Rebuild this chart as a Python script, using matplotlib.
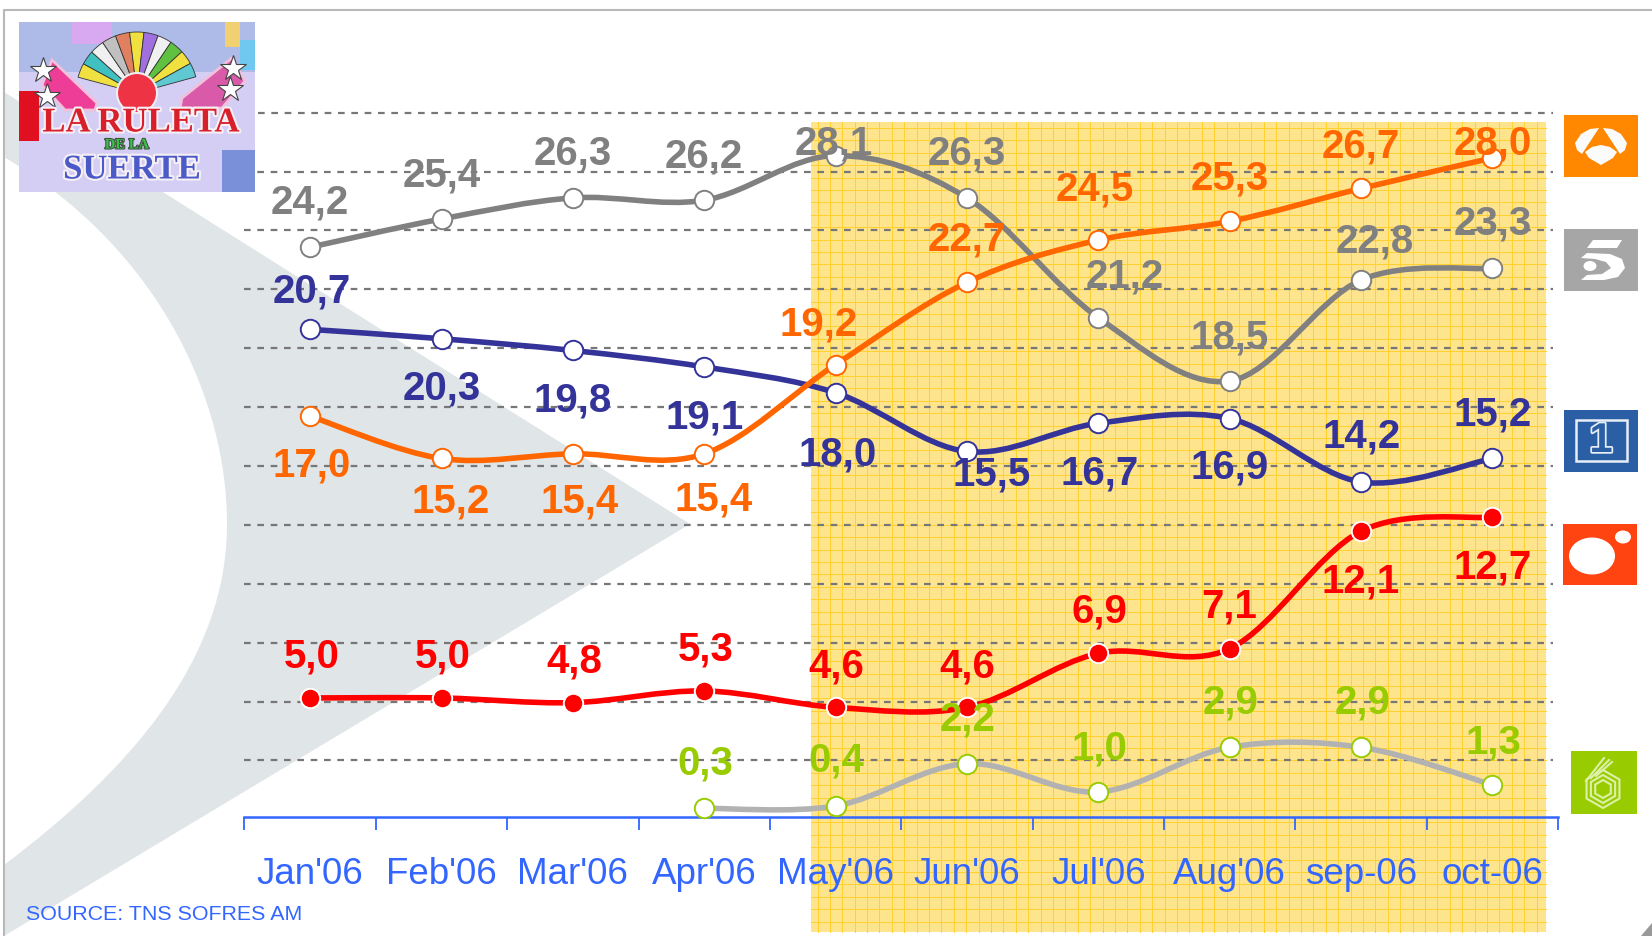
import matplotlib
matplotlib.use('Agg')
import matplotlib.pyplot as plt
import matplotlib.patheffects as pe
import numpy as np
from matplotlib.path import Path
from matplotlib.patches import PathPatch, Rectangle, Ellipse, Wedge, Circle, Polygon

plt.rcParams['font.family'] = ['Liberation Sans', 'DejaVu Sans']

# Data
months = ["Jan'06", "Feb'06", "Mar'06", "Apr'06", "May'06", "Jun'06", "Jul'06", "Aug'06", "sep-06", "oct-06"]
telecinco = [24.2, 25.4, 26.3, 26.2, 28.1, 26.3, 21.2, 18.5, 22.8, 23.3]
tve1 = [20.7, 20.3, 19.8, 19.1, 18.0, 15.5, 16.7, 16.9, 14.2, 15.2]
antena3 = [17.0, 15.2, 15.4, 15.4, 19.2, 22.7, 24.5, 25.3, 26.7, 28.0]
cuatro = [5.0, 5.0, 4.8, 5.3, 4.6, 4.6, 6.9, 7.1, 12.1, 12.7]
lasexta = [None, None, None, 0.3, 0.4, 2.2, 1.0, 2.9, 2.9, 1.3]
source = "SOURCE: TNS SOFRES AM"

# Label offsets from each point, in pixels (x, up)
telecinco_off = [(0, 45), (0, 44), (0, 44), (0, 44), (-2, 12), (0, 44), (26, 41), (0, 44), (14, 39), (0, 45)]
tve1_off = [(2, 38), (0, -50), (0, -50), (0, -51), (2, -62), (25, -23), (1, -50), (0, -49), (1, 45), (0, 44)]
antena3_off = [(1, -49), (9, -43), (7, -48), (9, -46), (-17, 40), (0, 43), (-4, 51), (0, 43), (0, 42), (0, 14)]
cuatro_off = [(2, 41), (1, 41), (1, 41), (1, 41), (1, 41), (0, 41), (1, 42), (0, 42), (0, -50), (0, -50)]
lasexta_off = [None, None, None, (1, 45), (1, 45), (1, 44), (1, 43), (1, 45), (2, 45), (1, 42)]

W, H = 1652, 936
fig = plt.figure(figsize=(W / 100, H / 100), dpi=100, facecolor='white')

# Background layer in pixel coordinates
bg = fig.add_axes([0, 0, 1, 1], zorder=0)
bg.set_xlim(0, W)
bg.set_ylim(H, 0)
bg.axis('off')

# big grey arrow shape behind the chart
arrow = Path(
    [(4, 92), (690, 524), (4, 936), (4, 865), (130, 770), (227, 660), (227, 524),
     (227, 400), (160, 250), (4, 157), (4, 92)],
    [Path.MOVETO, Path.LINETO, Path.LINETO, Path.LINETO, Path.CURVE4, Path.CURVE4, Path.CURVE4,
     Path.CURVE4, Path.CURVE4, Path.CURVE4, Path.CLOSEPOLY])
bg.add_patch(PathPatch(arrow, fc='#E0E5E7', ec='none'))

# yellow panel with graph-paper lines
bg.add_patch(Rectangle((811, 122), 735, 810, fc='#FFE48E', ec='none'))
for x in np.arange(817.5, 1546, 12.4):
    bg.plot([x, x], [122, 932], color='#FFD030', lw=0.72)
for y in np.arange(128, 932, 12.4):
    bg.plot([811, 1546], [y, y], color='#FFD030', lw=0.72)

# frame
bg.plot([4, 4, W], [H, 10, 10], color='#B8B8B8', lw=1.5)
bg.add_patch(Polygon([(W, 923), (W, H), (1641, H)], fc='#999999', ec='none'))

# Main chart
ax = fig.add_axes([244.5 / W, 1 - 817 / H, (1558 - 244.5) / W, (817 - 111) / H], zorder=1)
ax.patch.set_alpha(0)
ax.set_xlim(-0.5, 9.5)
ax.set_ylim(-0.07, 30)
for s in ['top', 'left', 'right']:
    ax.spines[s].set_visible(False)
ax.spines['bottom'].set_color('#3366FF')
ax.spines['bottom'].set_linewidth(1.8)
ax.set_yticks([])

ax.set_xticks(np.arange(-0.5, 10, 1))
ax.set_xticklabels([])
ax.tick_params(axis='x', which='major', direction='out', length=9.5, width=1.3, color='#3366FF')
ax.set_xticks(np.arange(10), minor=True)
ax.set_xticklabels(months, minor=True, fontsize=26.5, color='#3366FF')
ax.tick_params(axis='x', which='minor', length=0, pad=28.5)

# dashed gridlines
levels = np.linspace(2.34, 29.93, 12)
for n, v in enumerate(levels):
    ax.hlines(v, -0.4 if n == 11 else -0.5, 9.46, color='#777777', lw=1.6,
              linestyles=(0, (3, 3)), zorder=1)


def smooth(ys):
    # Catmull-Rom through the points, like Excel's smoothed line
    pts = [(i, y) for i, y in enumerate(ys) if y is not None]
    verts = [pts[0]]
    codes = [Path.MOVETO]
    for k in range(len(pts) - 1):
        p0 = pts[max(k - 1, 0)]
        p1 = pts[k]
        p2 = pts[k + 1]
        p3 = pts[min(k + 2, len(pts) - 1)]
        c1 = (p1[0] + (p2[0] - p0[0]) / 6, p1[1] + (p2[1] - p0[1]) / 6)
        c2 = (p2[0] - (p3[0] - p1[0]) / 6, p2[1] - (p3[1] - p1[1]) / 6)
        verts += [c1, c2, p2]
        codes += [Path.CURVE4] * 3
    return Path(verts, codes)


series = [
    (telecinco, telecinco_off, '#808080', 'white', '#808080', '#808080'),
    (tve1, tve1_off, '#333399', 'white', '#333399', '#333399'),
    (antena3, antena3_off, '#FF6600', 'white', '#FF6600', '#FF6600'),
    (cuatro, cuatro_off, '#FF0000', '#FF0000', 'white', '#FF0000'),
    (lasexta, lasexta_off, '#B2B2B2', 'white', '#99CC00', '#99CC00'),
]

for vals, offs, col, mfc, mec, txt in series:
    ax.add_patch(PathPatch(smooth(vals), fc='none', ec=col, lw=4.0, capstyle='round', zorder=3))
    xs = [i for i, v in enumerate(vals) if v is not None]
    ys = [v for v in vals if v is not None]
    ax.plot(xs, ys, ls='none', marker='o', ms=14, mfc=mfc, mec=mec, mew=1.4, zorder=4, clip_on=False)

# labels sit on top of the lines, as in the original
for vals, offs, col, mfc, mec, txt in series:
    for i, v in enumerate(vals):
        if v is None:
            continue
        ax.annotate(f'{v:.1f}'.replace('.', ','), (i, v), xytext=offs[i], textcoords='offset pixels',
                    ha='center', va='center', fontsize=29, fontweight='bold', color=txt, zorder=5)

# Top layer: source text and logos
top = fig.add_axes([0, 0, 1, 1], zorder=2)
top.set_xlim(0, W)
top.set_ylim(H, 0)
top.axis('off')
top.patch.set_alpha(0)

top.text(26, 914, source, fontsize=15.4, color='#3366FF', va='center', ha='left')

# Antena 3
top.add_patch(Rectangle((1564, 115), 74, 62, fc='#FF8800', ec='none'))
top.add_patch(Polygon([(1599, 128), (1590, 129), (1581, 134), (1575, 143), (1577, 150), (1582, 154)], fc='#FBFBFB', ec='none'))
top.add_patch(Polygon([(1603, 128), (1612, 129), (1621, 134), (1627, 143), (1625, 150), (1620, 154)], fc='#FBFBFB', ec='none'))
top.add_patch(Polygon([(1585, 152), (1592, 147), (1601, 145), (1610, 147), (1617, 152), (1613, 158), (1601, 165), (1589, 158)], fc='#FBFBFB', ec='none'))

# Telecinco
top.add_patch(Rectangle((1564, 229), 74, 62, fc='#A6A6A6', ec='none'))
top.add_patch(Polygon([(1593, 240), (1622, 240), (1617, 248), (1587, 248)], fc='white', ec='none'))
top.add_patch(Polygon([(1581, 258), (1587, 253), (1610, 254), (1622, 259), (1625, 268), (1618, 277), (1604, 280), (1581, 280),
                       (1587, 275), (1602, 274), (1611, 268), (1606, 262), (1595, 259)], fc='white', ec='none'))
top.add_patch(Ellipse((1590, 266), 13, 10, fc='white', ec='none'))

# TVE 1
top.add_patch(Rectangle((1564, 410), 74, 62, fc='#2B5FA5', ec='none'))
top.add_patch(Rectangle((1576, 420), 51, 41, fc='none', ec='#E8EEF6', lw=1.8))
top.text(1601, 441, '1', fontsize=30, fontweight='bold', color='#2B5FA5', ha='center', va='center',
         path_effects=[pe.withStroke(linewidth=2.5, foreground='#E8EEF6')])

# Cuatro
top.add_patch(Rectangle((1563, 524), 74, 61, fc='#FF4411', ec='none'))
top.add_patch(Ellipse((1592, 556), 46, 37, fc='white', ec='none'))
top.add_patch(Ellipse((1623, 537), 16, 13, fc='white', ec='none'))

# La Sexta
top.add_patch(Rectangle((1571, 751), 66, 63, fc='#99CC00', ec='none'))
for r in [19, 14, 9]:
    hexa = [(1603 + r * np.cos(np.radians(a)), 789 + r * np.sin(np.radians(a))) for a in range(30, 390, 60)]
    top.add_patch(Polygon(hexa, closed=True, fc='none', ec='#DDF0A8', lw=1.5))
top.plot([1586, 1604], [781, 758], color='#DDF0A8', lw=1.5)
top.plot([1591, 1609], [778, 760], color='#DDF0A8', lw=1.5)
top.plot([1596, 1612], [776, 762], color='#DDF0A8', lw=1.5)

# La ruleta de la suerte picture
top.add_patch(Rectangle((19, 22), 236, 170, fc='#D4CEF4', ec='none'))
top.add_patch(Rectangle((19, 22), 236, 50, fc='#AEBBE8', ec='none'))
top.add_patch(Rectangle((72, 22), 40, 22, fc='#D8A8F0', ec='none'))
top.add_patch(Rectangle((225, 22), 15, 25, fc='#F0D070', ec='none'))
top.add_patch(Rectangle((240, 40), 15, 30, fc='#70C8F0', ec='none'))
top.add_patch(Rectangle((19, 91), 20, 50, fc='#E01020', ec='none'))
top.add_patch(Rectangle((222, 150), 33, 42, fc='#7A90D8', ec='none'))
wedge_cols = ['#F0E040', '#40C0C0', '#F0F0F0', '#C0C0C0', '#E08060', '#F0E040', '#A070E0', '#F0F0F0', '#60C040', '#F0E040', '#60C8D0']
for k, c in enumerate(wedge_cols):
    top.add_patch(Wedge((137, 93), 61, 195 + 13.6 * k, 195 + 13.6 * (k + 1), fc=c, ec='#333333', lw=0.6))
top.add_patch(Circle((137, 93), 20, fc='#EE3344', ec='#EEEEEE', lw=1.5))
top.add_patch(Polygon([(52, 60), (97, 103), (95, 110), (65, 110), (42, 85)], fc='#EE3D96', ec='#F0C0DC', lw=2))
top.add_patch(Polygon([(232, 58), (182, 98), (180, 108), (222, 108), (245, 81)], fc='#D85AA8', ec='#F0C0DC', lw=2))
top.plot([43, 47, 233, 230], [70, 96, 68, 89], ls='none', marker='*', ms=19, mfc='white', mec='#444444', mew=0.8)
white_edge = [pe.withStroke(linewidth=3, foreground='#F6F0F4')]
top.text(141, 123, 'LA RULETA', family='Liberation Serif', fontsize=25, fontweight='bold', color='#D8202C',
         ha='center', va='center', path_effects=white_edge)
top.text(127, 145, 'DE LA', family='Liberation Serif', fontsize=10.5, fontweight='bold', color='#38C048',
         ha='center', va='center', path_effects=[pe.withStroke(linewidth=1.5, foreground='#405040')])
top.text(132, 170, 'SUERTE', family='Liberation Serif', fontsize=25, fontweight='bold', color='#4A5AC8',
         ha='center', va='center', path_effects=white_edge)

fig.savefig('out.png', dpi=100)
